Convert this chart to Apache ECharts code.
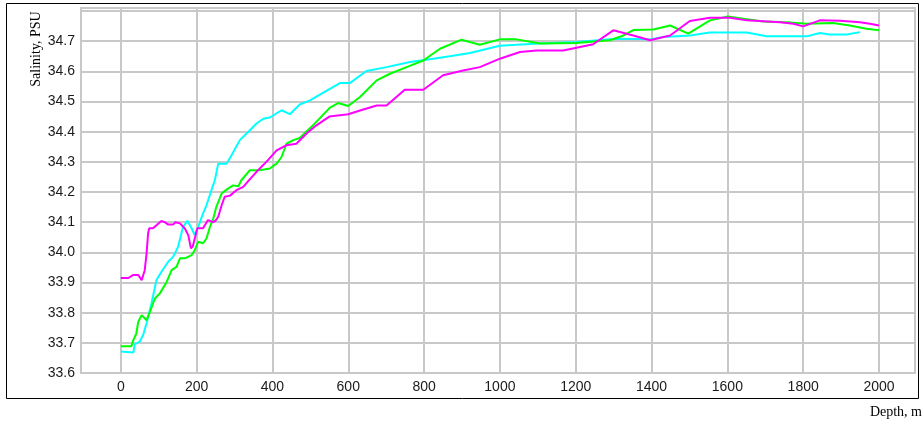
<!DOCTYPE html>
<html>
<head>
    <meta charset="utf-8">
    <title>Salinity profile</title>
    <script src="https://cdn.jsdelivr.net/npm/echarts/dist/echarts.min.js"></script>
    <style>
        html, body { margin: 0; padding: 0; background: #fff; }
        #chart1 { width: 924px; height: 428px; }
    </style>
</head>
<body>
<div id="chart1"></div>
<script type="text/javascript">
    // depth (m) and salinity (PSU) per profile
    var depthMagenta = [0, 20, 33, 46, 55, 63, 68, 72, 75, 85, 94, 107, 116, 125, 138, 144, 156, 169, 178, 185, 190, 202, 217, 230, 244, 250, 257, 266, 274, 288, 305, 323, 336, 358, 384, 411, 437, 463, 490, 516, 550, 600, 631, 675, 701, 749, 798, 850, 903, 947, 1000, 1053, 1097, 1167, 1202, 1246, 1299, 1352, 1396, 1449, 1501, 1554, 1607, 1651, 1739, 1774, 1800, 1844, 1897, 1950, 1976, 2000];
    var salMagenta = [33.915, 33.915, 33.925, 33.925, 33.908, 33.94, 33.996, 34.063, 34.08, 34.08, 34.09, 34.104, 34.10, 34.092, 34.092, 34.10, 34.096, 34.079, 34.057, 34.013, 34.02, 34.08, 34.08, 34.107, 34.10, 34.105, 34.118, 34.156, 34.184, 34.188, 34.206, 34.217, 34.236, 34.267, 34.30, 34.338, 34.355, 34.36, 34.394, 34.421, 34.45, 34.458, 34.47, 34.487, 34.487, 34.539, 34.539, 34.587, 34.603, 34.614, 34.642, 34.664, 34.669, 34.669, 34.678, 34.690, 34.736, 34.719, 34.703, 34.719, 34.767, 34.778, 34.778, 34.769, 34.763, 34.758, 34.749, 34.769, 34.768, 34.763, 34.758, 34.752];

    var depthGreen = [0, 28, 33, 41, 46, 55, 68, 77, 90, 103, 121, 134, 147, 156, 169, 187, 195, 204, 217, 226, 235, 244, 252, 266, 279, 296, 310, 318, 340, 367, 393, 411, 424, 437, 455, 472, 507, 551, 573, 600, 631, 675, 710, 754, 798, 842, 899, 947, 1000, 1044, 1106, 1202, 1290, 1326, 1352, 1405, 1449, 1497, 1554, 1602, 1642, 1695, 1757, 1809, 1879, 1923, 1967, 2000];
    var salGreen = [33.689, 33.689, 33.709, 33.731, 33.77, 33.792, 33.775, 33.803, 33.847, 33.864, 33.902, 33.941, 33.952, 33.98, 33.98, 33.991, 34.007, 34.035, 34.03, 34.046, 34.084, 34.112, 34.151, 34.195, 34.208, 34.222, 34.219, 34.239, 34.272, 34.272, 34.278, 34.294, 34.316, 34.36, 34.372, 34.379, 34.421, 34.479, 34.495, 34.485, 34.515, 34.57, 34.592, 34.614, 34.636, 34.675, 34.705, 34.688, 34.706, 34.706, 34.692, 34.694, 34.703, 34.719, 34.737, 34.739, 34.752, 34.725, 34.769, 34.782, 34.774, 34.765, 34.763, 34.758, 34.76, 34.752, 34.741, 34.736];

    var depthCyan = [0, 33, 37, 50, 59, 68, 81, 94, 107, 125, 138, 151, 164, 176, 187, 195, 204, 217, 226, 239, 248, 257, 279, 292, 314, 336, 358, 376, 393, 424, 446, 472, 499, 525, 578, 604, 648, 701, 763, 824, 868, 921, 1000, 1044, 1106, 1202, 1308, 1396, 1431, 1501, 1554, 1651, 1704, 1809, 1844, 1870, 1915, 1950];
    var salCyan = [33.671, 33.668, 33.696, 33.704, 33.726, 33.765, 33.831, 33.908, 33.935, 33.969, 33.985, 34.018, 34.084, 34.104, 34.079, 34.057, 34.084, 34.129, 34.156, 34.206, 34.239, 34.294, 34.294, 34.322, 34.372, 34.399, 34.427, 34.443, 34.447, 34.471, 34.458, 34.49, 34.504, 34.523, 34.561, 34.561, 34.601, 34.614, 34.631, 34.642, 34.65, 34.661, 34.685, 34.688, 34.692, 34.697, 34.708, 34.706, 34.714, 34.719, 34.729, 34.729, 34.716, 34.716, 34.727, 34.722, 34.722, 34.73];

    // zip depth + salinity into [x, y] pairs
    function pairs(xs, ys) {
        var out = [];
        for (var i = 0; i < xs.length; i++) {
            out.push([xs[i], ys[i]]);
        }
        return out;
    }

    function lineSeries(name, color, xs, ys) {
        return {
            name: name,
            type: 'line',
            data: pairs(xs, ys),
            symbol: 'none',
            lineStyle: { color: color, width: 2 },
            itemStyle: { color: color }
        };
    }

    var gridColor = '#c8c8c8';
    var labelFont = { fontFamily: 'Liberation Sans', fontSize: 14, color: '#1a1a1a' };

    var myChart1 = echarts.init(document.getElementById('chart1'));
    myChart1.setOption({
        animation: false,
        backgroundColor: '#ffffff',
        grid: {
            left: 81, right: 9, top: 8, bottom: 55,
            show: true, borderColor: gridColor, borderWidth: 2
        },
        xAxis: {
            type: 'value',
            min: -105,
            max: 2095,
            splitNumber: 11,
            axisLine: { show: true, lineStyle: { color: gridColor, width: 2 } },
            axisTick: { show: false },
            axisLabel: Object.assign({
                margin: 7,
                formatter: function (v) { return (v % 200 === 0) ? String(v) : ''; }
            }, labelFont),
            splitLine: { show: true, lineStyle: { color: gridColor, width: 2 } }
        },
        yAxis: {
            type: 'value',
            min: 33.6,
            max: 34.81,
            interval: 0.1,
            axisLine: { show: true, lineStyle: { color: gridColor, width: 2 } },
            axisTick: { show: false },
            axisLabel: Object.assign({
                margin: 6,
                formatter: function (v) { return v > 34.75 ? '' : v.toFixed(1); }
            }, labelFont),
            splitLine: { show: true, lineStyle: { color: gridColor, width: 2 } }
        },
        series: [
            lineSeries('cyan', '#00ffff', depthCyan, salCyan),
            lineSeries('green', '#00ff00', depthGreen, salGreen),
            lineSeries('magenta', '#ff00ff', depthMagenta, salMagenta)
        ],
        graphic: [
            {
                type: 'rect',
                shape: { x: 6.5, y: 3.5, width: 912, height: 395 },
                style: { fill: 'none', stroke: '#000', lineWidth: 1 },
                silent: true
            },
            {
                type: 'text',
                x: 36, y: 49,
                rotation: Math.PI / 2,
                style: {
                    text: 'Salinity, PSU',
                    fontFamily: 'Liberation Serif', fontSize: 14, fill: '#000',
                    align: 'center', verticalAlign: 'middle'
                }
            },
            {
                type: 'text',
                x: 922, y: 412,
                style: {
                    text: 'Depth, m',
                    fontFamily: 'Liberation Serif', fontSize: 14, fill: '#000',
                    align: 'right', verticalAlign: 'middle'
                }
            }
        ]
    });
</script>
</body>
</html>
